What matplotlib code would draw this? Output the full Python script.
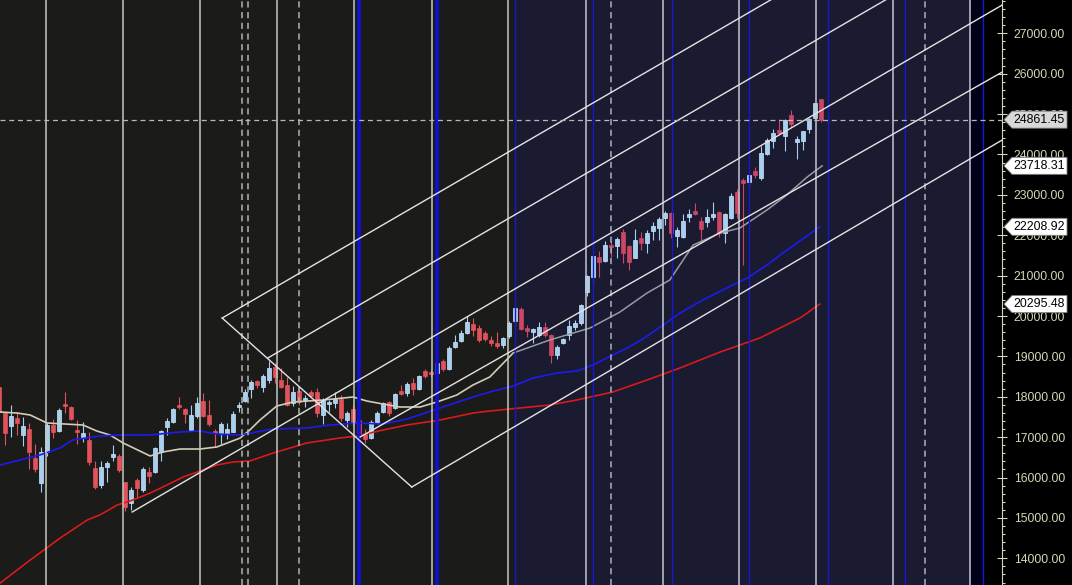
import matplotlib
matplotlib.use("Agg")
import matplotlib.pyplot as plt
from matplotlib.patches import Polygon
from matplotlib.transforms import IdentityTransform
from matplotlib.ticker import MultipleLocator, FormatStrFormatter

plt.rcParams['font.family'] = ['Liberation Sans', 'DejaVu Sans']

# weekly candles
opens = [18240, 17600, 17280, 17470, 17050, 17200, 16480, 15870, 16630, 17300,
         17150, 17820, 17750, 17180, 16980, 16930, 16240, 15820, 16260, 16510,
         16530, 15890, 15370, 15940, 15690, 16140, 16140, 16630, 17250, 17380,
         17800, 17700, 17180, 17520, 17900, 17550, 17150, 17080, 17080, 17130,
         17750, 17900, 18190, 18390, 18240, 18420, 18740, 18420, 18290, 17850,
         18140, 17920, 18120, 18120, 17550, 17820, 17850, 17950, 17430, 17700,
         17430, 17080, 16980, 17380, 17620, 17870, 17720, 18140, 18090, 18340,
         18190, 18640, 18610, 18590, 18890, 18690, 19230, 19380, 19580, 19800,
         19700, 19580, 19410, 19330, 19280, 19500, 19880, 20170, 19700, 19600,
         19530, 19730, 19530, 19030, 19330, 19530, 19730, 19830, 20590, 20970,
         21460, 21360, 21760, 21730, 22080, 21730, 21440, 21930, 21810, 22100,
         22180, 22430, 22550, 21980, 21960, 22450, 22600, 22350, 22330, 22450,
         22580, 22060, 22430, 23070, 23370, 23320, 23590, 23420, 24010, 24330,
         24610, 24460, 24980, 24310, 24330, 24630, 24900, 25370]
highs = [18290, 17620, 17800, 17620, 17500, 17350, 16830, 16760, 17350, 17450,
         17720, 18120, 17770, 17420, 17380, 17130, 16410, 16410, 16410, 16810,
         16580, 15900, 15770, 15990, 16260, 16260, 16760, 17180, 17470, 17720,
         17990, 17720, 17800, 17990, 18090, 17920, 17200, 17380, 17350, 17650,
         17870, 18190, 18420, 18420, 18560, 18890, 18840, 18710, 18490, 18270,
         18240, 18040, 18170, 18220, 17970, 17920, 18120, 18040, 17650, 17800,
         17470, 17200, 17430, 17650, 17870, 17900, 18090, 18290, 18370, 18470,
         18540, 18690, 18660, 18860, 18940, 19260, 19530, 19650, 19990, 19950,
         19780, 19630, 19500, 19600, 19480, 19880, 20220, 20220, 19780, 19700,
         19850, 19850, 19560, 19280, 19460, 19900, 19900, 20300, 21020, 21510,
         21610, 21860, 21860, 21960, 22150, 21760, 22150, 22080, 22130, 22330,
         22450, 22600, 22580, 22200, 22530, 22650, 22800, 22450, 22650, 22820,
         22600, 22550, 23050, 23150, 23420, 23520, 23690, 24210, 24410, 24630,
         24880, 24880, 25100, 24460, 24580, 24900, 25270, 25370]
lows = [17550, 16810, 17000, 17050, 16780, 16210, 16140, 15640, 16530, 16980,
        17130, 17600, 17420, 16830, 16880, 16310, 15720, 15740, 15890, 16410,
        16140, 15180, 15190, 15490, 15640, 15870, 16110, 16410, 17050, 17350,
        17700, 17350, 17150, 17470, 17500, 17280, 16760, 16830, 16950, 17130,
        17620, 17870, 17970, 18220, 18120, 18340, 18340, 18220, 17770, 17770,
        17800, 17750, 17970, 17500, 17330, 17620, 17720, 17400, 17250, 17300,
        17050, 16850, 16950, 17350, 17600, 17520, 17700, 18040, 18020, 18040,
        18170, 18470, 18490, 18540, 18640, 18660, 19210, 19360, 19550, 19500,
        19360, 19380, 19260, 19210, 19210, 19460, 19730, 19650, 19480, 19330,
        19480, 19480, 18840, 18940, 19310, 19410, 19650, 19780, 20500, 20770,
        20970, 21340, 21460, 21440, 21310, 21140, 21440, 21630, 21560, 21880,
        21880, 22250, 21930, 21710, 21930, 22330, 22500, 21810, 22200, 22380,
        21960, 21810, 22400, 22430, 21260, 23190, 23420, 23370, 23990, 24160,
        24510, 24090, 24680, 23890, 24110, 24530, 24880, 24800]
closes = [17620, 17100, 17520, 17350, 17280, 16630, 16210, 16630, 17300, 17130,
          17670, 17770, 17450, 17130, 17100, 16390, 15770, 16260, 16360, 16580,
          16190, 15270, 15690, 15740, 16210, 16040, 16730, 17150, 17400, 17700,
          17750, 17570, 17550, 17850, 17520, 17330, 17100, 17330, 17200, 17570,
          17800, 18120, 18370, 18290, 18510, 18710, 18490, 18240, 17800, 18120,
          17870, 17970, 18020, 17600, 17920, 17870, 17950, 17470, 17600, 17350,
          17100, 16950, 17380, 17600, 17850, 17600, 18070, 18070, 18320, 18190,
          18510, 18510, 18560, 18840, 18690, 19210, 19360, 19580, 19850, 19650,
          19410, 19430, 19330, 19260, 19460, 19830, 20200, 19680, 19630, 19680,
          19730, 19530, 19030, 19230, 19430, 19750, 19830, 20270, 20990, 21490,
          21340, 21760, 21710, 21910, 21560, 21340, 21880, 21810, 22060, 22230,
          22400, 22550, 22060, 22130, 22350, 22530, 22530, 22150, 22450, 22530,
          22060, 22530, 22970, 22550, 23290, 23490, 23490, 24040, 24360, 24530,
          24530, 24850, 24750, 24380, 24580, 24880, 25270, 24861.45]

# moving averages, (bar index, price)
ma20_x = [0.2, 3, 5.2, 8, 14, 16.3, 18.5, 20.7, 25.2, 27.3, 30.2, 33.5, 36.3, 40.2,
          41.8, 43.5, 46.3, 49, 54, 59, 61.3, 64, 66.8, 70.2, 73, 76.3, 79, 81.8,
          85.7, 91.8, 98.5, 103.5, 108, 111.8, 115.7, 120.2, 123.5, 128, 131.3,
          134.7, 137.2]
ma20_y = [17623, 17598, 17549, 17351, 17301, 17153, 17054, 16856, 16534, 16633,
          16707, 16707, 16757, 16979, 17177, 17425, 17772, 17871, 17920, 17994,
          17896, 17821, 17747, 17747, 17871, 18044, 18292, 18490, 19084, 19406,
          19703, 20099, 20569, 20891, 21758, 22055, 22179, 22625, 22996, 23442,
          23718.31]
ma50_x = [0.2, 6.8, 10.2, 12.2, 16.8, 20.2, 25.2, 30.2, 33.5, 36.3, 40.2, 45.7,
          51.3, 55.2, 59.7, 64, 68, 73.5, 79, 81.8, 85.7, 89, 93, 96.3, 99, 102.3,
          104.7, 107.3, 110.7, 113.5, 117.3, 121.3, 124.7, 128, 130.2, 136.8]
ma50_y = [16311, 16558, 16732, 16930, 17029, 17054, 17054, 17128, 17153, 17078,
          17054, 17202, 17227, 17301, 17351, 17326, 17450, 17722, 17994, 18118,
          18267, 18465, 18589, 18638, 18787, 19034, 19208, 19431, 19777, 20074,
          20396, 20693, 20941, 21263, 21510, 22208.92]
ma200_x = [0.2, 5.2, 10.2, 14.7, 16.8, 19.7, 22.3, 25.2, 28, 30.7, 33.5, 36.3, 39,
           41.8, 45.7, 51.3, 56.8, 59.7, 64, 68, 73.5, 79, 81.8, 86.8, 91.8, 96.3,
           102.3, 108, 113.5, 120.2, 126.8, 133.5, 136.8]
ma200_y = [13389, 13958, 14503, 14949, 15073, 15320, 15444, 15617, 15816, 16014,
           16162, 16311, 16385, 16410, 16608, 16856, 16979, 17029, 17177, 17301,
           17425, 17598, 17648, 17722, 17796, 17920, 18118, 18415, 18713, 19109,
           19455, 19950, 20295.48]

# drawn trend lines: (x0, y0, x1, y1) in bar index / price
trend_lines = [
    (37.2, 19950, 68.8, 15766),
    (37.2, 19950, 167.2, 31150),
    (44.8, 18960, 167.2, 29500),
    (22.2, 15147, 167.2, 27700),
    (60.2, 17004, 167.2, 26040),
    (68.8, 15766, 167.2, 24358),
]

# vertical markers, in bar index
quarter_lines = [7.83, 20.67, 33.5, 46.33, 59.17, 72.17, 84.83, 97.83, 110.67,
                 123.33, 136.17, 149.0, 161.83]
dashed_lines = [40.5, 41.5, 50.0, 102.0, 154.33]
blue_thick = [60.0, 73.0]
blue_thin = [86.0, 99.0, 112.17, 125.0, 138.17, 151.0, 164.0]

tag_values = [24861.45, 23718.31, 22208.92, 20295.48]
tag_colors = ['#d8d8d8', 'white', 'white', 'white']

W, H = 1072, 585
fig = plt.figure(figsize=(W / 100, H / 100), dpi=100, facecolor='black')
ax = fig.add_axes([0, 0, 1002 / W, 1])
ax.set_facecolor('black')
x_lo, x_hi = 0.17, 167.17
ax.set_xlim(x_lo, x_hi)
ax.set_ylim(13340, 27824)

ax.axvspan(x_lo, 86.0, color='#1b1b19', zorder=0, lw=0)
ax.axvspan(86.0, 161.83, color='#1a1a30', zorder=0, lw=0)
ax.axvspan(161.83, 164.0, color='#00001a', zorder=0, lw=0)

# candles
for i in range(len(opens)):
    o, h, l, c = opens[i], highs[i], lows[i], closes[i]
    up = c >= o
    if up:
        col, edge = '#a6cff0', '#cde6ff'
    else:
        col, edge = ('#e0535c', '#e0535c') if i < 86 else ('#cc4763', '#cc4763')
    ax.vlines(i, l, h, color=col, lw=0.8, zorder=2)
    ax.bar(i, max(abs(c - o), 20), bottom=min(o, c), width=0.68,
           color=col, edgecolor=edge, linewidth=0.5, zorder=2.1)

# moving averages
split = 86.0
left20 = [(x, y) for x, y in zip(ma20_x, ma20_y) if x <= split + 3]
right20 = [(x, y) for x, y in zip(ma20_x, ma20_y) if x >= split - 1]
ax.plot([p[0] for p in left20], [p[1] for p in left20], color='#d2cdb6', lw=1.2, zorder=3)
ax.plot([p[0] for p in right20], [p[1] for p in right20], color='#9a9aa4', lw=1.1, zorder=3)
ax.plot(ma50_x, ma50_y, color='#1c1cf0', lw=1.2, zorder=3)
ax.plot(ma200_x, ma200_y, color='#d81a1a', lw=1.2, zorder=3)

# vertical lines
for x in quarter_lines:
    c = '#c8c8c2' if x < 86 else '#c4c4d2'
    ax.axvline(x, color=c, lw=1.1, zorder=4)
for x in dashed_lines:
    c = '#b4b4ae' if x < 86 else '#b0b0c4'
    ax.axvline(x, color=c, lw=1.1, ls=(0, (4, 3)), zorder=4)
for x in blue_thick:
    ax.axvline(x, color='#1010d8', lw=2.6, zorder=4)
for x in blue_thin:
    ax.axvline(x, color='#1818d0', lw=1.0, snap=True, zorder=4)

# trend lines
for x0, y0, x1, y1 in trend_lines:
    ax.plot([x0, x1], [y0, y1], color='#e4e4e4', lw=1.0, zorder=5)

ax.axhline(closes[-1], color='#b8b8b8', lw=0.9, ls=(0, (4, 3)), zorder=5)

# axis
for s in ['top', 'bottom', 'left']:
    ax.spines[s].set_visible(False)
ax.spines['right'].set_color('#d6d6b6')
ax.xaxis.set_visible(False)
ax.yaxis.tick_right()
ax.yaxis.set_major_locator(MultipleLocator(1000))
ax.yaxis.set_minor_locator(MultipleLocator(200))
ax.yaxis.set_major_formatter(FormatStrFormatter('%.2f'))
ax.tick_params(axis='y', which='major', direction='inout', length=7, width=0.8,
               colors='#d6d6b6', labelsize=8.7, pad=5)
ax.tick_params(axis='y', which='minor', direction='out', length=2.5, width=0.8,
               colors='#d6d6b6')

# price tags on the axis
fig.canvas.draw()
for v, fc in zip(tag_values, tag_colors):
    xd, yd = ax.transData.transform((x_hi, v))
    pts = [(xd + 2, yd), (xd + 10, yd + 8.5), (xd + 65, yd + 8.5),
           (xd + 65, yd - 8.5), (xd + 10, yd - 8.5)]
    fig.add_artist(Polygon(pts, closed=True, facecolor=fc, edgecolor='#808080',
                           lw=0.6, transform=IdentityTransform(), zorder=10))
    fig.text((xd + 11) / W, yd / H, '%.2f' % v, color='black', fontsize=8.9,
             va='center', ha='left', zorder=11)

fig.savefig('out.png', dpi=100, facecolor='black')
